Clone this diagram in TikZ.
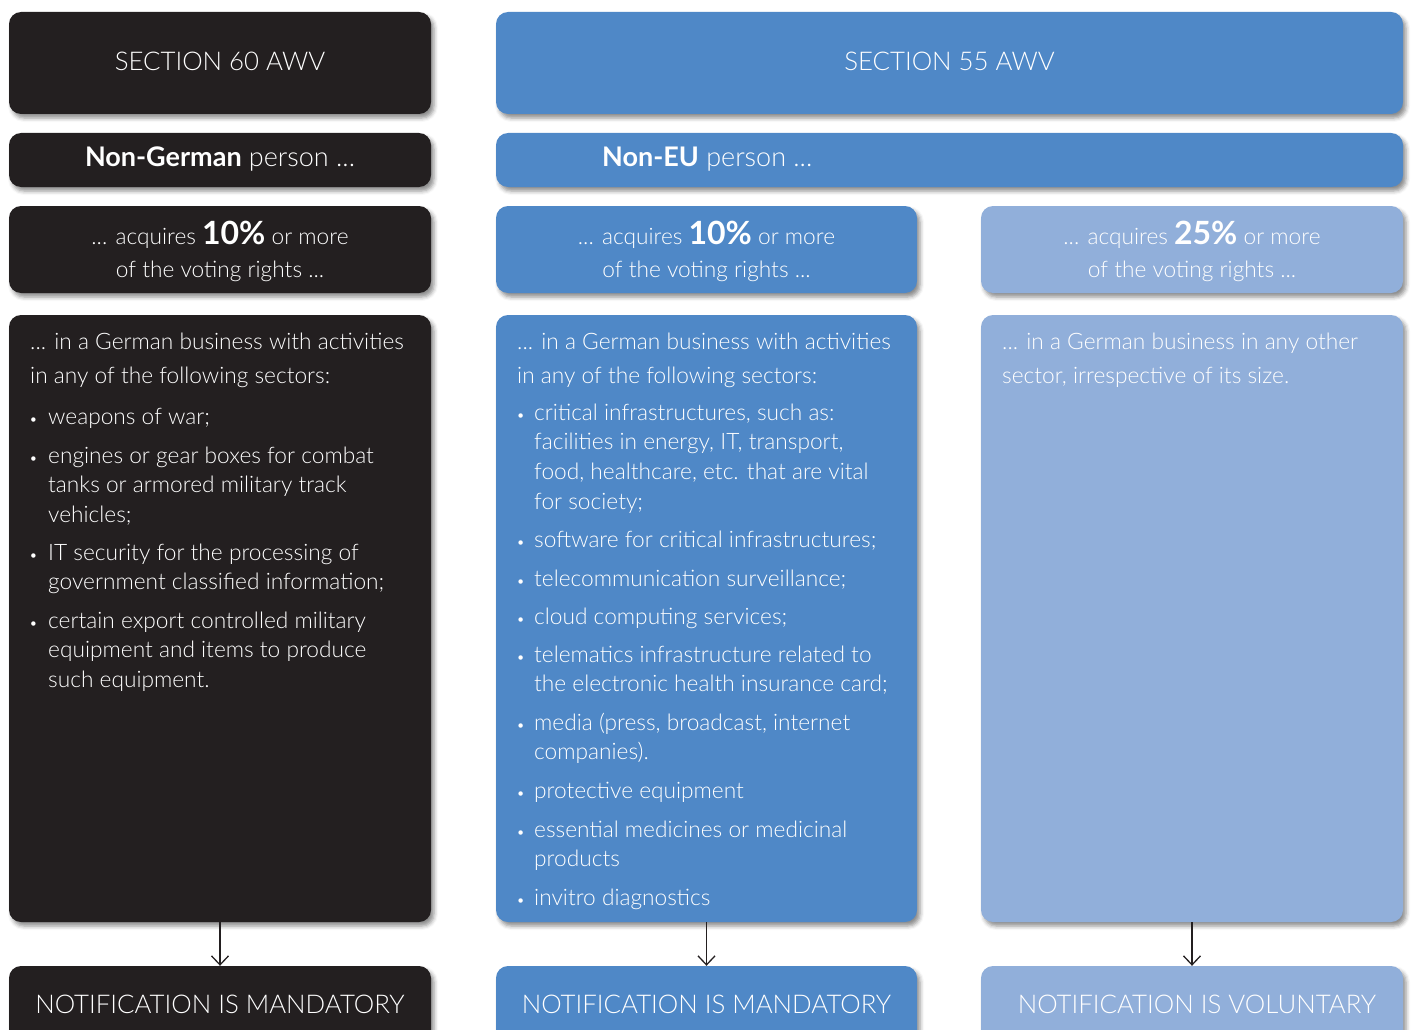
\documentclass[tikz,border=0pt]{standalone}
\usepackage{fontspec}
\setmainfont{Lato}[UprightFont=* Light, BoldFont=* Bold]
\usetikzlibrary{shadows.blur,arrows.meta}
\definecolor{cdark}{HTML}{231F20}
\definecolor{cblue}{HTML}{4F88C7}
\definecolor{clight}{HTML}{91AFDA}
\newcommand\fsz[2]{\fontsize{#1}{#2}\selectfont}
\tikzset{
  box/.style={rectangle, rounded corners=12pt, inner sep=0pt, draw=none,
    blur shadow={shadow xshift=3pt, shadow yshift=-4pt, shadow blur radius=4pt, shadow opacity=45}},
  txt/.style={inner sep=0pt, text=white},
  head/.style={txt, anchor=base, font=\fsz{25.8}{30}},
  pers/.style={txt, anchor=base, font=\fsz{27}{30}},
  acq/.style={txt, anchor=north, align=center, font=\fsz{22.7}{33}},
  para/.style={txt, anchor=north west, align=left, font=\fsz{22.7}{34}},
  itemtxt/.style={txt, anchor=north west, align=left, font=\fsz{22.7}{29.7}},
  bul/.style={txt, anchor=base, font=\fsz{15}{18}},
  arr/.style={draw=cdark, line width=1.3pt, -{Straight Barb[length=9pt,width=17pt,line width=1.3pt]}}
}
\newcommand\fl{\rule{0pt}{18pt}}
\begin{document}
\begin{tikzpicture}[x=1pt,y=-1pt]
\useasboundingbox (0,0) rectangle (1411,1030);
\clip (0,0) rectangle (1411,1030);
% boxes
\node[box, fill=cdark, minimum width=422pt, minimum height=102pt] (h1) at (220,63) {};
\node[box, fill=cblue, minimum width=907pt, minimum height=102pt] (h2) at (949.5,63) {};
\node[box, fill=cdark, minimum width=422pt, minimum height=54pt] (p1) at (220,160) {};
\node[box, fill=cblue, minimum width=907pt, minimum height=54pt] (p2) at (949.5,160) {};
\node[box, fill=cdark, minimum width=422pt, minimum height=87pt] (a1) at (220,249.5) {};
\node[box, fill=cblue, minimum width=421pt, minimum height=87pt] (a2) at (706.5,249.5) {};
\node[box, fill=clight, minimum width=422pt, minimum height=87pt] (a3) at (1192,249.5) {};
\node[box, fill=cdark, minimum width=422pt, minimum height=607pt] (s1) at (220,618.5) {};
\node[box, fill=cblue, minimum width=421pt, minimum height=607pt] (s2) at (706.5,618.5) {};
\node[box, fill=clight, minimum width=422pt, minimum height=607pt] (s3) at (1192,618.5) {};
\node[box, fill=cdark, minimum width=422pt, minimum height=80pt] (n1) at (220,1006) {};
\node[box, fill=cblue, minimum width=421pt, minimum height=80pt] (n2) at (706.5,1006) {};
\node[box, fill=clight, minimum width=422pt, minimum height=80pt] (n3) at (1192,1006) {};
% arrows
\draw[arr] (s1.south) -- (n1.north);
\draw[arr] (s2.south) -- (n2.north);
\draw[arr] (s3.south) -- (n3.north);
% headers
\node[head] (th1) at (220,71) {SECTION 60 AWV};
\node[head] (th2) at (949.5,71) {SECTION 55 AWV};
\node[pers] (tp1) at (220,166) {\textbf{Non-German} person ...};
\node[pers, anchor=base west] (tp2) at (602,166) {\textbf{Non-EU} person ...};
\node[acq] (ta1) at (220,219) {\rule{0pt}{25pt}... acquires {\fsz{32}{34}\bfseries 10\%} or more\\of the voting rights ...};
\node[acq] (ta2) at (706.5,219) {\rule{0pt}{25pt}... acquires {\fsz{32}{34}\bfseries 10\%} or more\\of the voting rights ...};
\node[acq] (ta3) at (1192,219) {\rule{0pt}{25pt}... acquires {\fsz{32}{34}\bfseries 25\%} or more\\of the voting rights ...};
% bottom
\node[head] (tn1) at (220,1013) {NOTIFICATION IS MANDATORY};
\node[head] (tn2) at (706.5,1013) {NOTIFICATION IS MANDATORY};
\node[head] (tn3) at (1197,1013) {NOTIFICATION IS VOLUNTARY};
% column 1
\node[para] (c1p) at (30,331) {\fl... in a German business with activities\\in any of the following sectors:};
\node[bul] (c1b1) at (33.5,424) {\textbullet};
\node[itemtxt] (c1i1) at (48,406) {\fl weapons of war;};
\node[bul] (c1b2) at (33.5,463) {\textbullet};
\node[itemtxt] (c1i2) at (48,445) {\fl engines or gear boxes for combat\\tanks or armored military track\\vehicles;};
\node[bul] (c1b3) at (33.5,560) {\textbullet};
\node[itemtxt] (c1i3) at (48,542) {\fl IT security for the processing of\\government classified information;};
\node[bul] (c1b4) at (33.5,628) {\textbullet};
\node[itemtxt] (c1i4) at (48,610) {\fl certain export controlled military\\equipment and items to produce\\such equipment.};
% column 2
\node[para] (c2p) at (517,331) {\fl... in a German business with activities\\in any of the following sectors:};
\node[bul] (c2b1) at (520.7,420) {\textbullet};
\node[itemtxt] (c2i1) at (534,402) {\fl critical infrastructures, such as:\\facilities in energy, IT, transport,\\food, healthcare, etc. that are vital\\for society;};
\node[bul] (c2b2) at (520.7,547) {\textbullet};
\node[itemtxt] (c2i2) at (534,529) {\fl software for critical infrastructures;};
\node[bul] (c2b3) at (520.7,586) {\textbullet};
\node[itemtxt] (c2i3) at (534,568) {\fl telecommunication surveillance;};
\node[bul] (c2b4) at (520.7,624) {\textbullet};
\node[itemtxt] (c2i4) at (534,606) {\fl cloud computing services;};
\node[bul] (c2b5) at (520.7,662) {\textbullet};
\node[itemtxt] (c2i5) at (534,644) {\fl telematics infrastructure related to\\the electronic health insurance card;};
\node[bul] (c2b6) at (520.7,730) {\textbullet};
\node[itemtxt] (c2i6) at (534,712) {\fl media (press, broadcast, internet\\companies).};
\node[bul] (c2b7) at (520.7,798) {\textbullet};
\node[itemtxt] (c2i7) at (534,780) {\fl protective equipment};
\node[bul] (c2b8) at (520.7,837) {\textbullet};
\node[itemtxt] (c2i8) at (534,819) {\fl essential medicines or medicinal\\products};
\node[bul] (c2b9) at (520.7,905) {\textbullet};
\node[itemtxt] (c2i9) at (534,887) {\fl invitro diagnostics};
% column 3
\node[para] (c3p) at (1002,331) {\fl... in a German business in any other\\sector, irrespective of its size.};
\end{tikzpicture}
\end{document}
